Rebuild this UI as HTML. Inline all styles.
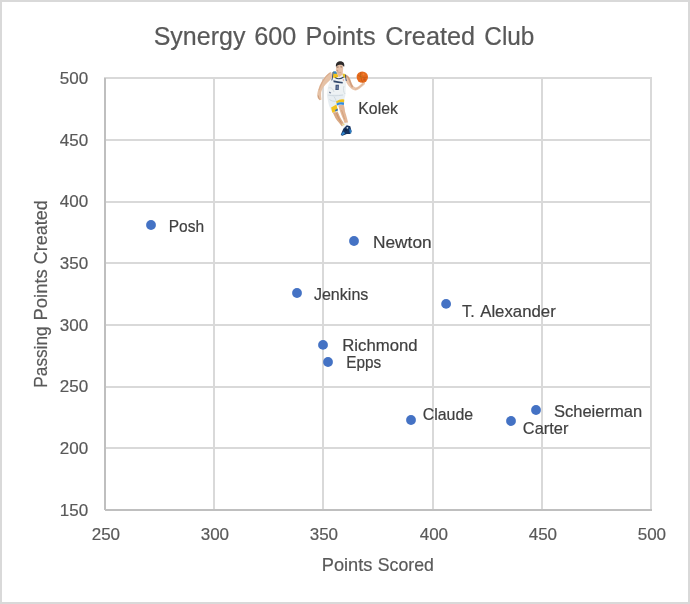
<!DOCTYPE html>
<html><head><meta charset="utf-8"><title>Synergy 600 Points Created Club</title>
<style>
html,body{margin:0;padding:0;background:#fff;}
body{width:690px;height:604px;position:relative;overflow:hidden;font-family:"Liberation Sans", sans-serif;}
svg text{font-family:"Liberation Sans", sans-serif;stroke:currentColor;stroke-width:0.2px;}
</style></head><body>
<svg width="690" height="604" viewBox="0 0 690 604" style="position:absolute;left:0;top:0;will-change:transform">
<rect x="0" y="0" width="690" height="604" fill="#fff"/>
<rect x="1" y="1" width="688" height="602" fill="none" stroke="#d9d9d9" stroke-width="2"/>
<line x1="104" y1="78" x2="652" y2="78" stroke="#d9d9d9" stroke-width="2"/>
<line x1="104" y1="140" x2="652" y2="140" stroke="#d9d9d9" stroke-width="2"/>
<line x1="104" y1="202" x2="652" y2="202" stroke="#d9d9d9" stroke-width="2"/>
<line x1="104" y1="263" x2="652" y2="263" stroke="#d9d9d9" stroke-width="2"/>
<line x1="104" y1="325" x2="652" y2="325" stroke="#d9d9d9" stroke-width="2"/>
<line x1="104" y1="387" x2="652" y2="387" stroke="#d9d9d9" stroke-width="2"/>
<line x1="104" y1="448" x2="652" y2="448" stroke="#d9d9d9" stroke-width="2"/>
<line x1="214" y1="77" x2="214" y2="509" stroke="#d9d9d9" stroke-width="2"/>
<line x1="323" y1="77" x2="323" y2="509" stroke="#d9d9d9" stroke-width="2"/>
<line x1="433" y1="77" x2="433" y2="509" stroke="#d9d9d9" stroke-width="2"/>
<line x1="542" y1="77" x2="542" y2="509" stroke="#d9d9d9" stroke-width="2"/>
<line x1="651" y1="77" x2="651" y2="509" stroke="#d9d9d9" stroke-width="2"/>
<line x1="105" y1="78" x2="105" y2="510" stroke="#bfbfbf" stroke-width="2"/>
<line x1="105" y1="510" x2="652" y2="510" stroke="#bfbfbf" stroke-width="2"/>
<text x="88.2" y="83.90" text-anchor="end" font-size="17" fill="#595959" color="#595959">500</text>
<text x="88.2" y="145.61" text-anchor="end" font-size="17" fill="#595959" color="#595959">450</text>
<text x="88.2" y="207.33" text-anchor="end" font-size="17" fill="#595959" color="#595959">400</text>
<text x="88.2" y="269.04" text-anchor="end" font-size="17" fill="#595959" color="#595959">350</text>
<text x="88.2" y="330.76" text-anchor="end" font-size="17" fill="#595959" color="#595959">300</text>
<text x="88.2" y="392.47" text-anchor="end" font-size="17" fill="#595959" color="#595959">250</text>
<text x="88.2" y="454.19" text-anchor="end" font-size="17" fill="#595959" color="#595959">200</text>
<text x="88.2" y="515.90" text-anchor="end" font-size="17" fill="#595959" color="#595959">150</text>
<text x="105.90" y="539.8" text-anchor="middle" font-size="17" fill="#595959" color="#595959">250</text>
<text x="214.90" y="539.8" text-anchor="middle" font-size="17" fill="#595959" color="#595959">300</text>
<text x="323.90" y="539.8" text-anchor="middle" font-size="17" fill="#595959" color="#595959">350</text>
<text x="433.90" y="539.8" text-anchor="middle" font-size="17" fill="#595959" color="#595959">400</text>
<text x="542.90" y="539.8" text-anchor="middle" font-size="17" fill="#595959" color="#595959">450</text>
<text x="651.90" y="539.8" text-anchor="middle" font-size="17" fill="#595959" color="#595959">500</text>
<circle cx="151" cy="225" r="4.9" fill="#4472c4"/>
<circle cx="354" cy="241" r="4.9" fill="#4472c4"/>
<circle cx="297" cy="293" r="4.9" fill="#4472c4"/>
<circle cx="446.1" cy="303.9" r="4.9" fill="#4472c4"/>
<circle cx="323" cy="344.9" r="4.9" fill="#4472c4"/>
<circle cx="328" cy="362" r="4.9" fill="#4472c4"/>
<circle cx="411" cy="420" r="4.9" fill="#4472c4"/>
<circle cx="511" cy="421" r="4.9" fill="#4472c4"/>
<circle cx="536" cy="410" r="4.9" fill="#4472c4"/>
<text x="168.70" y="231.7" font-size="17" fill="#404040" color="#404040" textLength="35.37" lengthAdjust="spacingAndGlyphs">Posh</text>
<text x="373.00" y="247.7" font-size="17" fill="#404040" color="#404040" textLength="58.63" lengthAdjust="spacingAndGlyphs">Newton</text>
<text x="313.90" y="299.6" font-size="17" fill="#404040" color="#404040" textLength="54.46" lengthAdjust="spacingAndGlyphs">Jenkins</text>
<text x="462.10" y="317" font-size="17" fill="#404040" color="#404040" textLength="12.52" lengthAdjust="spacingAndGlyphs">T.</text>
<text x="480.20" y="317" font-size="17" fill="#404040" color="#404040" textLength="75.57" lengthAdjust="spacingAndGlyphs">Alexander</text>
<text x="342.30" y="350.8" font-size="17" fill="#404040" color="#404040" textLength="75.24" lengthAdjust="spacingAndGlyphs">Richmond</text>
<text x="346.20" y="368.4" font-size="17" fill="#404040" color="#404040" textLength="34.88" lengthAdjust="spacingAndGlyphs">Epps</text>
<text x="422.70" y="419.8" font-size="17" fill="#404040" color="#404040" textLength="50.48" lengthAdjust="spacingAndGlyphs">Claude</text>
<text x="522.80" y="434.1" font-size="17" fill="#404040" color="#404040" textLength="45.56" lengthAdjust="spacingAndGlyphs">Carter</text>
<text x="553.90" y="416.7" font-size="17" fill="#404040" color="#404040" textLength="88.23" lengthAdjust="spacingAndGlyphs">Scheierman</text>
<text x="358.30" y="113.7" font-size="17" fill="#404040" color="#404040" textLength="39.56" lengthAdjust="spacingAndGlyphs">Kolek</text>
<text x="153.70" y="44.8" font-size="25" fill="#595959" color="#595959" textLength="91.72" lengthAdjust="spacingAndGlyphs">Synergy</text>
<text x="254.30" y="44.8" font-size="25" fill="#595959" color="#595959" textLength="42.12" lengthAdjust="spacingAndGlyphs">600</text>
<text x="305.59" y="44.8" font-size="25" fill="#595959" color="#595959" textLength="70.10" lengthAdjust="spacingAndGlyphs">Points</text>
<text x="385.20" y="44.8" font-size="25" fill="#595959" color="#595959" textLength="89.86" lengthAdjust="spacingAndGlyphs">Created</text>
<text x="484.30" y="44.8" font-size="25" fill="#595959" color="#595959" textLength="50.11" lengthAdjust="spacingAndGlyphs">Club</text>
<text x="321.80" y="570.75" font-size="18.4" fill="#595959" color="#595959" textLength="50.62" lengthAdjust="spacingAndGlyphs">Points</text>
<text x="377.80" y="570.75" font-size="18.4" fill="#595959" color="#595959" textLength="56.07" lengthAdjust="spacingAndGlyphs">Scored</text>
<text transform="translate(46.8,387.70) rotate(-90)" x="0" y="0" font-size="18.4" fill="#595959" color="#595959" textLength="61.31" lengthAdjust="spacingAndGlyphs">Passing</text>
<text transform="translate(46.8,320.50) rotate(-90)" x="0" y="0" font-size="18.4" fill="#595959" color="#595959" textLength="51.23" lengthAdjust="spacingAndGlyphs">Points</text>
<text transform="translate(46.8,264.20) rotate(-90)" x="0" y="0" font-size="18.4" fill="#595959" color="#595959" textLength="63.83" lengthAdjust="spacingAndGlyphs">Created</text>
<defs><filter id="soft" x="-10%" y="-10%" width="120%" height="120%"><feGaussianBlur stdDeviation="0.3"/></filter></defs>
<g id="player" filter="url(#soft)">
<!-- left arm -->
<path d="M331,71.8 C328.4,73.2 326,75.6 323.8,78.6 C321.6,81.6 319.8,84.8 318.8,88 C317.8,90.8 317.2,93.4 317.2,95.6 C317.3,97.6 318.2,99.4 319.6,100.2 L321.6,99.6 C321.2,97.6 321,95.2 321.2,92.6 C321.6,90.4 322.4,88.8 323.4,87.2 C324.6,85.4 326,83.8 327.8,82.2 C329.6,80.6 331.4,79 333,77.2 Z" fill="#e6c2a6"/>
<path d="M330,73 C327,75 324.5,78 322.6,81.4 C321,84.4 319.8,87.4 319,90.2" fill="none" stroke="#d4a280" stroke-width="1.1" opacity="0.7"/>
<path d="M318.3,95.5 C318.5,97.5 319,98.8 319.9,99.6" fill="none" stroke="#c4906e" stroke-width="0.8"/>
<!-- right arm -->
<path d="M344.8,74.2 C347.5,74.8 349.6,77 350.6,80 C351.4,82.6 352.4,85 353.8,86.6 C355,87.6 356,87.6 357.2,87 C359.4,85.8 361.6,83.8 364.4,80.8 L365,84 C362.6,86.4 360,88.6 357.8,89.8 C356,90.6 354,90.6 352.4,89.6 C350.6,88.4 349,86.6 347.6,84.6 C346.6,83 345.8,81.6 345.4,80.2 Z" fill="#e8c4aa"/>
<path d="M345.8,75.4 C348,76.4 349.2,78.6 349.8,81 C350.4,83.2 351.4,85.4 352.6,87.2" fill="none" stroke="#c98f6a" stroke-width="1.6" opacity="0.7"/>
<path d="M355,89.4 C357.5,88.6 360,86.8 363,84" fill="none" stroke="#d9aa8a" stroke-width="0.9" opacity="0.7"/>
<!-- legs -->
<path d="M332.4,111.8 L337.2,110.6 C338.2,113 339,115 339.8,116.6 C341,119 342,120.6 342.9,121.8 L344.6,124.4 L342,126.4 C340.8,125 339.8,123.8 339,122.7 C337.6,121 336.4,119.8 335.5,118.3 Z" fill="#d9a985"/>
<path d="M336.5,113 C337.6,116 339,119 341,122.6" fill="none" stroke="#c08a64" stroke-width="0.9" opacity="0.8"/>
<path d="M338.1,105.2 L343.7,104.4 C344.4,107 344.8,109 345,111.4 C345.8,113.8 346.4,115.6 346.8,117.5 C347.3,119.4 347.8,121.2 348.1,122.8 L344.6,123 C343.8,121 343,118.8 342,116.6 C341.2,114.4 340.4,112.4 339.8,110.5 Z" fill="#e3b797"/>
<path d="M341.6,110.2 C342.6,113 343.6,116 344.6,119.4" fill="none" stroke="#c9946e" stroke-width="0.9" opacity="0.7"/>
<!-- socks -->
<path d="M342.2,124 L344.6,123 L347.9,122.6 L348.2,126.6 L343.4,128.2 Z" fill="#f4f5f6"/>
<path d="M342.4,124.2 L344.2,123.4 L344.6,125 L342.8,125.6 Z" fill="#e8d060" opacity="0.8"/>
<!-- shorts -->
<path d="M326.8,93.6 L345.6,93.2 L345.2,96 L344.2,99.2 L343.8,104.6 L338,105.2 L337.4,107 L337.7,112 L332.2,112.6 C331.4,111 330.6,109.6 330,108 C329.2,106 328.6,104 328.3,102.4 C327.6,99 327.1,96.4 326.8,93.6 Z" fill="#e8eef2"/>
<path d="M328.2,95 C332,96 337,96 343,95 M329.5,99.5 C331.5,101 333.5,101.5 336,101.2 M334,96.5 C335.5,99 336.5,101 337,103" fill="none" stroke="#c8d3da" stroke-width="0.8"/>
<!-- right leg band -->
<path d="M336.2,101.2 Q340.5,98.6 344.3,99.6 L344.1,102.6 Q340.4,101.6 336.5,103.4 Z" fill="#f1c21e"/>
<path d="M336.5,103.4 Q340.4,101.6 344.1,102.6 L343.8,104.9 Q340.2,103.8 337,105.4 Z" fill="#2f8ade"/>
<!-- left leg band -->
<path d="M331.1,107.6 L336.4,104.6 L337.8,110.4 L332.4,112.8 Z" fill="#f1c21e"/>
<path d="M335,110 L337.7,108.6 L337.8,110.4 L335.6,111.6 Z" fill="#2f6fc0"/>
<!-- jersey -->
<path d="M333,71.6 L336.4,72 L339,76.4 L342.4,73.6 L345.6,74.2 L346.2,79.8 L345.8,87.6 L345.6,94 L326.8,94.2 L328,86.2 L330.4,80.2 L332.4,76.2 Z" fill="#eef2f4"/>
<path d="M328.4,88 C331,87 333,88.6 334,92 M344,86 C343,89 343.4,92 345,94" fill="none" stroke="#d5dde2" stroke-width="1"/>
<path d="M333.4,80.2 C336.4,80.8 339.6,81.6 342.8,82 L342.6,83.6 C339.6,83.4 336.4,82.8 333.6,82.2 Z" fill="#33486c"/>
<path d="M335.6,84.8 L338.9,84.8 L338.7,90 L335.4,90 Z" fill="#3a507a"/>
<path d="M336.8,85.8 L337.6,85.8 L337.5,89.2 L336.7,89.2 Z" fill="#9aa8c0"/>
<path d="M329.2,91.6 L331.2,92.4 L330.8,93.6 L329,93 Z" fill="#5a6a88" opacity="0.8"/>
<!-- straps -->
<path d="M333.2,71.4 L336.5,71.8 L338.6,76.8 L335.2,78.2 L333,77.4 Z" fill="#f1c21e"/>
<path d="M333.3,71.3 L336.3,71.6 L337,73.8 L333.6,73.8 Z" fill="#2f86d8"/>
<path d="M342.4,73.4 L345.4,74 L345.6,78 L343.4,77.6 Z" fill="#e6c428"/>
<path d="M335.2,77.6 Q339,80.2 343.6,77" fill="none" stroke="#2f4466" stroke-width="1.1"/>
<path d="M333,72 L332.4,78 L331.8,80.4" fill="none" stroke="#2f4466" stroke-width="0.9"/>
<path d="M345.4,74.6 L345.8,78.6 L346.3,81" fill="none" stroke="#2f4466" stroke-width="0.9"/>
<circle cx="343.4" cy="80" r="0.7" fill="#d07060" opacity="0.7"/>
<!-- neck -->
<path d="M337.4,71 L342.8,71 L342.6,74.4 L339,77.2 L336.6,72.4 Z" fill="#e4b99e"/>
<!-- head -->
<ellipse cx="339.6" cy="68.4" rx="3.6" ry="4.3" fill="#e8c2a8"/>
<path d="M336.3,69.8 C337.2,71.6 339,72.8 341,72.4" fill="none" stroke="#d2a084" stroke-width="0.8"/>
<path d="M335.9,66.4 C335.6,62.8 337.8,61.2 340.4,61.2 C343,61.3 344.7,63 344.3,66.4 L343.5,66.6 C343,65.2 341.6,64.6 339.6,64.8 C338,65 336.8,65.6 336.3,66.8 Z" fill="#2e2c2c"/>
<path d="M336.6,67.2 L338.6,67 M340.4,66.8 L342.2,67" stroke="#6a4e40" stroke-width="0.7"/>
<circle cx="337.6" cy="70.4" r="0.6" fill="#c98070" opacity="0.6"/>
<!-- ball -->
<circle cx="362.3" cy="77.1" r="5.7" fill="#e66a1c"/>
<circle cx="360.8" cy="76.6" r="1.2" fill="#c49a20" opacity="0.75"/>
<circle cx="364.5" cy="79.5" r="1.2" fill="#c14e10" opacity="0.7"/>
<circle cx="363.5" cy="74.2" r="1" fill="#f08a3a" opacity="0.8"/>
<path d="M358.2,75.4 C361,77.2 364,78 367.4,77 M361,71.8 C360,75 360.8,79 362.8,82.6" fill="none" stroke="#b24a10" stroke-width="0.6" opacity="0.8"/>
<!-- shoes -->
<path d="M340.7,134.9 L343.3,128.8 L346.8,125.3 L350.3,126.2 L351.6,131.4 L350.3,134 L346.8,134 L342.4,135.7 Z" fill="#15335e"/>
<path d="M341.2,134.4 L343.2,131.6 L345.2,133.2 L342.6,135.2 Z" fill="#2f86d0"/>
<path d="M349.2,128.6 L351.4,130 L351.2,133.4 L349.6,132.6 Z" fill="#2a7cc6"/>
<path d="M344,130 L346.5,128.5 L347,131 Z" fill="#0a2246"/>
<circle cx="347.4" cy="127.8" r="0.9" fill="#c8d8e6"/>
</g>

</svg>
</body></html>
